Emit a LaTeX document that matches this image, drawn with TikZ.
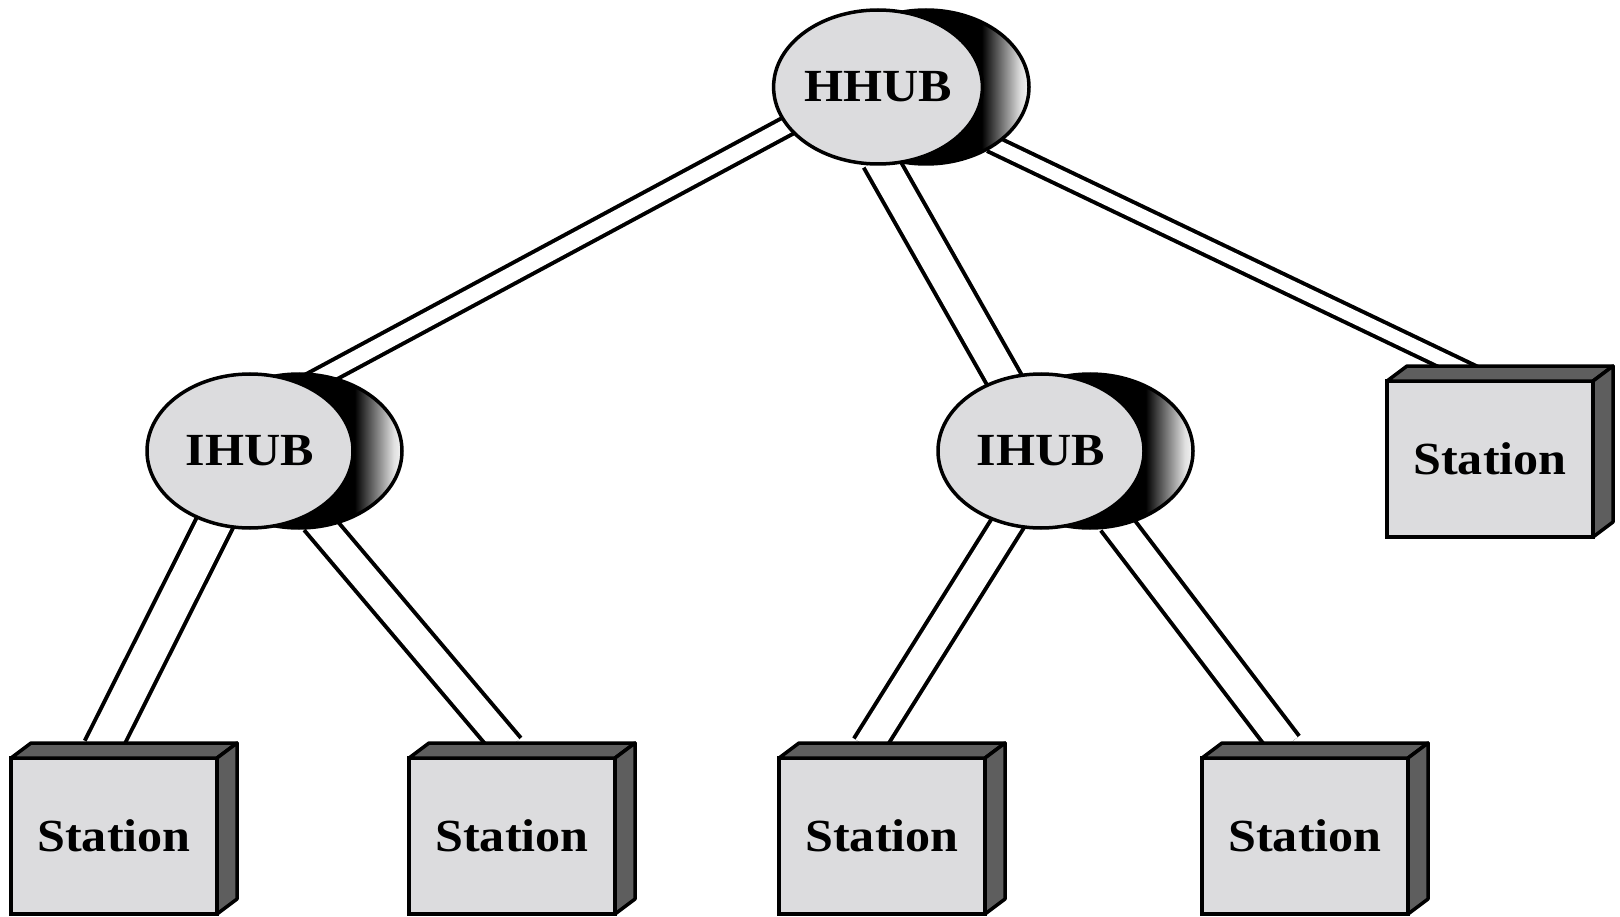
\documentclass[tikz,border=0pt]{standalone}
\usepackage{fontspec}
\setmainfont{Liberation Serif}
\usetikzlibrary{shapes.geometric,calc}

\pgfdeclarelayer{paper}
\pgfdeclarelayer{links}
\pgfsetlayers{paper,links,main}

\definecolor{facegray}{HTML}{DCDCDE}
\definecolor{sidegray}{HTML}{5E5E5E}

% dark-to-light band across the visible rim of a hub
\pgfdeclarehorizontalshading{hubside}{100bp}{%
  color(0bp)=(black); color(63.5bp)=(black); color(66.5bp)=(black!72);
  color(70bp)=(black!40); color(73bp)=(black!12); color(75bp)=(black!4);
  color(100bp)=(black!4)}

\tikzset{
  outline/.style={line width=3.5pt, draw=black},
  labelfont/.style={font=\fontsize{46}{50}\selectfont\bfseries},
  hubfront/.style={ellipse, outline, fill=facegray, minimum width=206pt,
    minimum height=154pt, inner sep=0pt, outer sep=0pt, labelfont},
  hubback/.style={ellipse, outline, shading=hubside, minimum width=206pt,
    minimum height=154pt, inner sep=0pt, outer sep=0pt},
  stationbox/.style={rectangle, outline, fill=facegray, minimum width=206pt,
    minimum height=156pt, inner sep=0pt, outer sep=0pt, labelfont},
  sideface/.style={outline, fill=sidegray, line join=round},
  link/.style={line width=4pt, draw=black, double=white, double distance=#1},
}

% top and right faces of a station block
\newcommand\stationsides[1]{%
  \filldraw[sideface] (#1.north west) -- ++(20,-15)
    -- ([shift={(20,-15)}]#1.north east) -- (#1.north east) -- cycle;
  \filldraw[sideface] (#1.north east) -- ++(20,-15)
    -- ([shift={(20,-15)}]#1.south east) -- (#1.south east) -- cycle;
}
\newcommand\lbl[1]{\scalebox{1.09}[1]{#1}}

\begin{document}
\begin{tikzpicture}[x=1pt, y=-1pt]
  \begin{pgfonlayer}{paper}
    \fill[white] (0,0) rectangle (1620,917);
  \end{pgfonlayer}
  \useasboundingbox (0,0) rectangle (1620,917);

  % hubs
  \node[hubback] (hhubrim) at (926,87) {};
  \node[hubfront] (hhub) at (878,87) {\lbl{HHUB}};
  \node[hubback] (ihubLrim) at (299,451) {};
  \node[hubfront] (ihubL) at (250,451) {\lbl{IHUB}};
  \node[hubback] (ihubRrim) at (1090,451) {};
  \node[hubfront] (ihubR) at (1041,451) {\lbl{IHUB}};

  % stations
  \node[stationbox] (st1) at (114,836) {\lbl{Station}};
  \stationsides{st1}
  \node[stationbox] (st2) at (512,836) {\lbl{Station}};
  \stationsides{st2}
  \node[stationbox] (st3) at (882,836) {\lbl{Station}};
  \stationsides{st3}
  \node[stationbox] (st4) at (1305,836) {\lbl{Station}};
  \stationsides{st4}
  \node[stationbox] (st5) at (1490,459) {\lbl{Station}};
  \stationsides{st5}

  % cable pairs, kept under the blocks
  \begin{pgfonlayer}{links}
    \draw[link=15pt] ($(hhub)+(-84.7,35.8)$) -- ($(ihubL)+(56,-66)$);
    \draw[link=31pt] ($(hhub)+(1,72)$) -- ($(ihubR)+(-33.6,-65.8)$);
    \draw[link=13pt] ($(hhub)+(112.7,56.3)$) -- ($(st5)+(-10.5,-82)$);
    \draw[link=33pt] ($(ihubL)+(-33,67.6)$) -- ($(st1)+(-12.6,-87)$);
    \draw[link=27pt] ($(ihubL)+(66,69)$) -- ($(st2)+(-3,-88)$);
    \draw[link=28pt] ($(ihubR)+(-29.6,66.5)$) -- ($(st3)+(-14.5,-89)$);
    \draw[link=29pt] ($(ihubR)+(73,69.5)$) -- ($(st4)+(-19,-90)$);
  \end{pgfonlayer}
\end{tikzpicture}
\end{document}
